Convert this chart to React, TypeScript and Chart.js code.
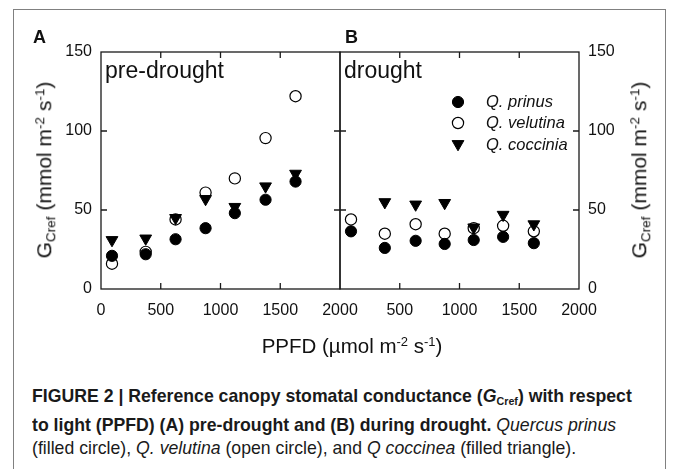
import React, { useEffect, useRef } from "react";
import { Chart, registerables } from "chart.js";
import { drawPoint } from "chart.js/helpers";

Chart.register(...registerables);

// ---------- data ----------
const xTicks = [0, 500, 1000, 1500, 2000];
const yTicks = [0, 50, 100, 150];

// Panel A: pre-drought
const ppfdA = [92, 374, 624, 875, 1120, 1377, 1628];
const prinusA = [21, 22, 31.5, 38.5, 48, 56.5, 68];
const velutinaA = [16, 23.5, 44, 61, 70, 95.5, 122];
const coccineaA = [31, 32, 45, 57, 52, 65, 73];

// Panel B: drought
const ppfdB = [92, 375, 633, 876, 1119, 1365, 1622];
const prinusB = [36.5, 26, 30.5, 28.5, 31, 33, 29];
const velutinaB = [44, 35, 41, 35, 38.5, 40, 36.5];
const coccineaB: (number | null)[] = [null, 55, 53.5, 54.5, 39, 47, 41];

const speciesLabels = ["Q. prinus", "Q. velutina", "Q. coccinia"];

// ---------- styles ----------
const FONT = '"Liberation Sans", Arial, Helvetica, sans-serif';
const INK = "#111";

const styles = [
  { pointStyle: "circle", radius: 5.6, rotation: 0, bg: "#000", border: "#000", bw: 1 },
  { pointStyle: "circle", radius: 5.6, rotation: 0, bg: "#fff", border: "#000", bw: 1.2 },
  { pointStyle: "triangle", radius: 6.8, rotation: 180, bg: "#000", border: "#000", bw: 1 },
];

function makeDatasets(xs: number[], series: (number | null)[][]) {
  const order = [2, 0, 1];
  return order.map((i) => {
    const s = styles[i];
    return {
      label: speciesLabels[i],
      data: xs.map((x, k) => ({ x, y: series[i][k] })),
      pointStyle: s.pointStyle,
      pointRadius: s.radius,
      pointRotation: s.rotation,
      pointBackgroundColor: s.bg,
      pointBorderColor: s.border,
      pointBorderWidth: s.bw,
      showLine: false,
    };
  });
}

const framePlugin = {
  id: "frameTicks",
  beforeDatasetsDraw(chart: any) {
    const { ctx, chartArea } = chart;
    const { left, right, top, bottom } = chartArea;
    const x = chart.scales.x;
    const y = chart.scales.y;
    ctx.save();
    ctx.strokeStyle = "#1a1a1a";
    ctx.lineWidth = 1.3;
    ctx.strokeRect(left, top, right - left, bottom - top);
    const L = 6;
    ctx.beginPath();
    xTicks.forEach((v) => {
      if (v <= x.min || v >= x.max) return;
      const px = x.getPixelForValue(v);
      ctx.moveTo(px, bottom);
      ctx.lineTo(px, bottom - L);
      ctx.moveTo(px, top);
      ctx.lineTo(px, top + L);
    });
    yTicks.forEach((v) => {
      if (v <= y.min || v >= y.max) return;
      const py = y.getPixelForValue(v);
      ctx.moveTo(left, py);
      ctx.lineTo(left + L, py);
      ctx.moveTo(right, py);
      ctx.lineTo(right - L, py);
    });
    ctx.stroke();
    ctx.restore();
  },
};

function textPlugin(letter: string, letterX: number, panelText: string, withLegend: boolean) {
  return {
    id: "panelText",
    afterDatasetsDraw(chart: any) {
      const { ctx, chartArea } = chart;
      const off = chart.canvas.offsetLeft;
      ctx.save();
      ctx.fillStyle = INK;
      ctx.textBaseline = "alphabetic";
      ctx.textAlign = "left";
      ctx.font = `bold 18px ${FONT}`;
      ctx.fillText(letter, letterX - off, 43);
      ctx.font = `23px ${FONT}`;
      ctx.fillText(panelText, chartArea.left + 4, 78);
      if (withLegend) {
        const rows = [102, 123, 144];
        const mx = 458 - off;
        rows.forEach((ry, i) => {
          const s = styles[i];
          ctx.fillStyle = s.bg;
          ctx.strokeStyle = s.border;
          ctx.lineWidth = s.bw;
          drawPoint(ctx, { pointStyle: s.pointStyle, rotation: s.rotation, radius: s.radius, borderWidth: s.bw } as any, mx, ry);
          ctx.fillStyle = INK;
          ctx.font = `italic 16.5px ${FONT}`;
          ctx.textBaseline = "middle";
          ctx.fillText(speciesLabels[i], mx + 28, i === 2 ? ry + 1.5 : ry);
        });
      }
      ctx.restore();
    },
  };
}

function baseScales(showZero: boolean, yPos: "left" | "right", yWidth: number) {
  return {
    x: {
      type: "linear",
      position: "bottom",
      min: 0,
      max: 2000,
      afterBuildTicks: (s: any) => {
        s.ticks = xTicks.map((v) => ({ value: v }));
      },
      ticks: {
        autoSkip: false,
        maxRotation: 0,
        padding: 12,
        color: INK,
        font: { family: FONT, size: 16 },
        callback: (v: any) => (!showZero && v === 0 ? "" : String(v)),
      },
      grid: { display: false, drawTicks: false },
      border: { display: false },
      afterFit: (s: any) => {
        s.height = 51;
      },
    },
    y: {
      type: "linear",
      position: yPos,
      min: 0,
      max: 150,
      afterBuildTicks: (s: any) => {
        s.ticks = yTicks.map((v) => ({ value: v }));
      },
      ticks: {
        padding: 9,
        color: INK,
        font: { family: FONT, size: 16 },
      },
      grid: { display: false, drawTicks: false },
      border: { display: false },
      afterFit: (s: any) => {
        s.width = yWidth;
      },
    },
  };
}

// canvas geometry (page px)
const canvasA = { left: 0, width: 380, padL: 0, padR: 40, yWidth: 101 };
const canvasB = { left: 310, width: 363, padL: 30, padR: 0, yWidth: 94 };

function Panel(props: { which: "A" | "B" }) {
  const ref = useRef<HTMLCanvasElement>(null);
  const isA = props.which === "A";
  const g = isA ? canvasA : canvasB;
  useEffect(() => {
    if (!ref.current) return;
    const datasets = isA
      ? makeDatasets(ppfdA, [prinusA, velutinaA, coccineaA])
      : makeDatasets(ppfdB, [prinusB, velutinaB, coccineaB]);
    const chart = new Chart(ref.current, {
      type: "scatter",
      data: { datasets } as any,
      options: {
        animation: false,
        responsive: false,
        devicePixelRatio: 1,
        layout: { padding: { top: 52, right: g.padR, left: g.padL, bottom: 0 } },
        plugins: { legend: { display: false }, tooltip: { enabled: false } },
        scales: (isA ? baseScales(true, "left", g.yWidth) : baseScales(false, "right", g.yWidth)) as any,
      },
      plugins: [framePlugin, isA ? textPlugin("A", 33, "pre-drought", false) : textPlugin("B", 345, "drought", true)],
    });
    return () => chart.destroy();
  }, []);
  return (
    <canvas
      ref={ref}
      width={g.width}
      height={340}
      style={{ position: "absolute", left: g.left, top: 0, width: g.width, height: 340 }}
    />
  );
}

const supStyle = { fontSize: 13.5, verticalAlign: "0.55em" } as const;

const yTitle = (
  <>
    G<sub style={{ fontSize: 13.5, verticalAlign: "-0.3em" }}>Cref</sub> (mmol m
    <sup style={supStyle}>-2</sup> s<sup style={supStyle}>-1</sup>)
  </>
);

const captionBold1 = "FIGURE 2 | Reference canopy stomatal conductance (";
const captionBold1b = ") with respect";
const captionBold2 = "to light (PPFD) (A) pre-drought and (B) during drought.";

export default function App() {
  return (
    <div
      style={{
        position: "absolute",
        left: 0,
        top: 0,
        width: 673,
        height: 469,
        overflow: "hidden",
        background: "#fff",
        fontFamily: FONT,
        color: INK,
      }}
    >
      <div
        style={{
          position: "absolute",
          left: 13,
          top: 9,
          width: 666 - 13,
          height: 480,
          borderTop: "1.5px solid #808080",
          borderLeft: "1.5px solid #808080",
          borderRight: "1.5px solid #808080",
          boxSizing: "border-box",
        }}
      />
      <Panel which="B" />
      <Panel which="A" />
      <div
        style={{
          position: "absolute",
          left: 46,
          top: 170,
          transform: "translate(-50%, -50%) rotate(-90deg)",
          whiteSpace: "nowrap",
          fontSize: 21,
          lineHeight: "22px",
        }}
      >
        {yTitle}
      </div>
      <div
        style={{
          position: "absolute",
          left: 641,
          top: 170,
          transform: "translate(-50%, -50%) rotate(-90deg)",
          whiteSpace: "nowrap",
          fontSize: 21,
          lineHeight: "22px",
        }}
      >
        {yTitle}
      </div>
      <div
        style={{
          position: "absolute",
          left: 352,
          top: 344,
          transform: "translate(-50%, -50%)",
          whiteSpace: "nowrap",
          fontSize: 20.5,
          lineHeight: "22px",
        }}
      >
        PPFD (µmol m<sup style={{ fontSize: 13, verticalAlign: "0.55em" }}>-2</sup> s
        <sup style={{ fontSize: 13, verticalAlign: "0.55em" }}>-1</sup>)
      </div>
      <div
        style={{
          position: "absolute",
          left: 32,
          top: 384,
          width: 700,
          whiteSpace: "nowrap",
          fontSize: 19,
          lineHeight: "23px",
          color: "#1a1a1a",
          transform: "scaleX(0.93)",
          transformOrigin: "0 0",
        }}
      >
        <b>
          {captionBold1}
          <i>G</i>
          <sub style={{ fontSize: 11.5, verticalAlign: "-0.25em" }}>Cref</sub>
          {captionBold1b}
        </b>
        <br />
        <b>{captionBold2}</b> <i>Quercus prinus</i>
        <br />
        (filled circle), <i>Q. velutina</i> (open circle), and <i>Q coccinea</i> (filled triangle).
      </div>
    </div>
  );
}
